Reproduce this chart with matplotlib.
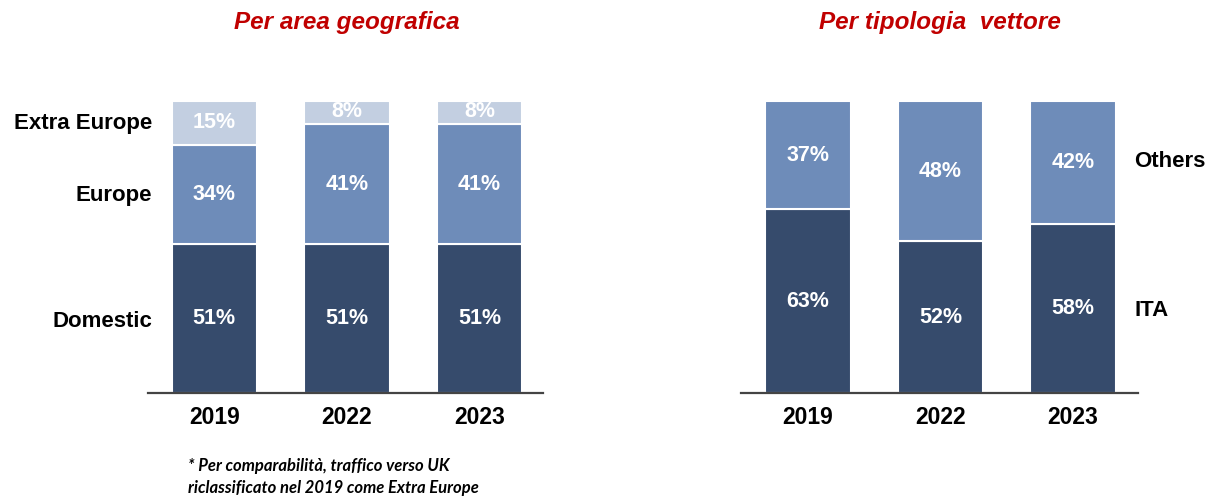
import matplotlib
matplotlib.use("Agg")
import matplotlib.pyplot as plt

years = ["2019", "2022", "2023"]
geo_categories = ["Domestic", "Europe", "Extra Europe"]
domestic = [51, 51, 51]
europe = [34, 41, 41]
extra_europe = [15, 8, 8]
carrier_categories = ["ITA", "Others"]
ita = [63, 52, 58]
others = [37, 48, 42]

DARK = "#364b6c"
MID = "#6e8cb9"
LIGHT = "#c3cfe1"
RED = "#c00000"
FONT = "Liberation Sans"

W, H = 1215, 498
fig = plt.figure(figsize=(W / 100, H / 100), dpi=100)


def px_axes(x0, x1, y_base, y_top):
    return fig.add_axes([x0 / W, 1 - y_base / H, (x1 - x0) / W, (y_base - y_top) / H])


def stacked(ax, series, colors, xlim):
    xs = range(len(years))
    bottoms = [0] * len(years)
    for vals, col in zip(series, colors):
        bars = ax.bar(xs, vals, bottom=bottoms, width=0.645, color=col,
                      edgecolor="white", linewidth=1.5, zorder=2)
        for b, v, bot in zip(bars, vals, bottoms):
            cy = bot + v / 2
            if v < 10:
                cy = bot + v / 2 + 0.3
            ax.text(b.get_x() + b.get_width() / 2, cy, f"{v}%", ha="center",
                    va="center", color="white", fontsize=15.5, fontweight="bold",
                    family=FONT, zorder=3)
        bottoms = [a + b for a, b in zip(bottoms, vals)]
    ax.set_xlim(*xlim)
    ax.set_ylim(0, 100)
    for s in ["top", "right", "left"]:
        ax.spines[s].set_visible(False)
    ax.spines["bottom"].set_color("#444444")
    ax.spines["bottom"].set_linewidth(1.6)
    ax.set_yticks([])
    ax.set_xticks(list(xs))
    ax.set_xticklabels(years, fontsize=16.5, fontweight="bold", family=FONT)
    ax.tick_params(axis="x", length=0, pad=9)


ax1 = px_axes(148, 543, 393, 101)
stacked(ax1, [domestic, europe, extra_europe], [DARK, MID, LIGHT], (-0.5, 2.48))
ax2 = px_axes(741, 1138, 393, 101)
stacked(ax2, [ita, others], [DARK, MID], (-0.505, 2.49))


def label(xpx, ypx, s, ha):
    fig.text(xpx / W, 1 - ypx / H, s, ha=ha, va="center", fontsize=16,
             fontweight="bold", family=FONT)


label(152, 321, geo_categories[0], "right")
label(152, 196, geo_categories[1], "right")
label(152, 124, geo_categories[2], "right")
label(1134, 311, carrier_categories[0], "left")
label(1134, 161, carrier_categories[1], "left")

# titles
fig.text(347 / W, 1 - 22 / H, "Per area geografica", ha="center", va="center",
         color=RED, fontsize=17.5, fontweight="bold", style="italic", family=FONT)
fig.text(940 / W, 1 - 22 / H, "Per tipologia  vettore", ha="center", va="center",
         color=RED, fontsize=17.5, fontweight="bold", style="italic", family=FONT)

# footnote
fig.text(188 / W, 1 - 466 / H, "* Per comparabilità, traffico verso UK", ha="left",
         va="center", fontsize=12, fontweight="bold", style="italic", family="Lato")
fig.text(188 / W, 1 - 488 / H, "riclassificato nel 2019 come Extra Europe", ha="left",
         va="center", fontsize=12, fontweight="bold", style="italic", family="Lato")

fig.savefig("out.png", dpi=100)
